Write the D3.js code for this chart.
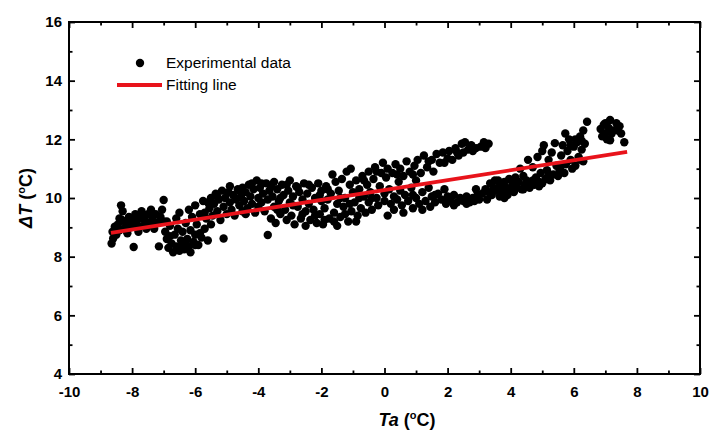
<!DOCTYPE html>
<html>
<head>
<meta charset="utf-8">
<title>Delta T vs Ta</title>
<script src="https://cdn.jsdelivr.net/npm/d3@7"></script>
<style>
    body { margin: 0; background: #fff; }
    text { font-family: Arial, "Liberation Sans", sans-serif; }
</style>
</head>
<body>
<svg id="diagram" width="711" height="432"></svg>
<script>
// Messpunkte [Ta, dT]
var experimental = [
    [-8.65,8.45],[-8.6,8.62],[-8.62,8.85],[-8.55,9.02],[-8.5,8.75],[-8.45,9.1],[-8.4,8.9],[-8.35,9.75],[-8.3,9.55],[-8.32,9.25],[-8.25,8.95],[-8.2,9.15],
    [-8.1,9.35],[-8.05,9.0],[-8.0,9.2],[-7.95,8.33],[-7.9,9.45],[-7.85,9.1],[-7.8,8.85],[-7.75,9.3],[-7.7,9.55],[-7.65,9.05],[-7.6,9.25],[-7.55,8.95],[-7.5,9.45],
    [-7.45,9.15],[-7.4,9.6],[-7.35,9.3],[-7.3,8.95],[-7.25,9.45],[-7.2,9.15],[-7.15,8.35],[-7.1,9.35],[-7.05,9.6],[-7.0,9.93],[-7.0,9.2],[-6.95,8.85],
    [-6.9,8.6],[-6.85,8.3],[-6.8,9.05],[-6.75,8.45],[-6.7,8.15],[-6.65,8.75],[-6.6,9.3],[-6.6,8.35],[-6.55,8.95],[-6.5,8.2],[-6.5,9.5],
    [-6.45,8.55],[-6.4,8.85],[-6.35,8.25],[-6.3,9.15],[-6.25,8.6],[-6.2,9.6],[-6.2,8.35],[-6.15,8.9],[-6.1,9.35],[-6.05,8.5],[-6.0,9.75],[-6.0,8.75],
    [-5.95,9.1],[-5.9,8.4],[-5.85,9.45],[-5.8,8.65],[-5.75,9.9],[-5.7,8.95],[-5.65,9.3],[-5.6,8.55],[-5.55,9.65],[-5.5,9.1],[-5.5,10.0],
    [-5.45,9.4],[-5.4,9.8],[-5.35,10.15],[-5.3,9.55],[-5.25,9.95],[-5.2,9.25],[-5.15,10.25],[-5.1,8.62],[-5.1,9.7],[-5.05,10.0],[-5.0,9.45],
    [-4.95,10.2],[-4.9,9.85],[-4.85,9.6],[-4.8,10.1],[-4.75,9.4],[-4.7,9.95],[-4.65,10.3],[-4.6,9.75],[-4.55,10.05],[-4.5,9.55],[-4.5,10.35],
    [-4.45,9.9],[-4.4,10.2],[-4.35,9.65],[-4.3,10.45],[-4.25,10.05],[-4.2,9.8],[-4.15,10.3],[-4.1,9.5],[-4.05,10.6],[-4.0,10.0],[-4.0,9.7],
    [-3.95,10.35],[-3.9,9.85],[-3.85,10.15],[-3.8,9.55],[-3.75,10.5],[-3.7,8.74],[-3.7,9.95],[-3.65,10.25],[-3.6,9.3],[-3.55,10.05],[-3.5,9.7],[-3.5,10.55],
    [-3.45,9.15],[-3.4,10.3],[-3.35,9.9],[-3.3,9.45],[-3.25,10.45],[-3.2,10.1],[-3.15,9.6],[-3.1,9.25],[-3.05,10.25],[-3.0,9.85],[-3.0,10.6],
    [-2.95,9.4],[-2.9,10.05],[-2.85,9.1],[-2.8,10.4],[-2.75,9.7],[-2.7,10.2],[-2.65,9.3],[-2.6,9.95],[-2.55,10.5],[-2.5,9.55],[-2.5,9.05],
    [-2.45,10.15],[-2.4,9.8],[-2.35,9.25],[-2.3,10.35],[-2.25,9.6],[-2.2,10.0],[-2.15,9.15],[-2.1,10.5],[-2.05,9.45],[-2.0,9.9],[-2.0,10.25],
    [-1.95,9.1],[-1.9,9.65],[-1.85,10.4],[-1.8,9.95],[-1.75,9.3],[-1.7,10.15],[-1.65,10.8],[-1.6,9.5],[-1.55,10.55],[-1.5,9.8],[-1.5,9.05],
    [-1.45,10.25],[-1.4,9.35],[-1.35,10.65],[-1.3,9.7],[-1.25,10.0],[-1.2,10.9],[-1.15,9.2],[-1.1,10.45],[-1.07,11.0],[-1.05,9.55],[-1.0,10.2],
    [-0.95,9.85],[-0.9,10.6],[-0.85,9.4],[-0.8,10.3],[-0.75,9.65],[-0.7,10.75],[-0.65,10.05],[-0.6,9.5],[-0.55,10.45],[-0.5,9.85],[-0.5,10.9],
    [-0.45,10.2],[-0.4,9.6],[-0.35,10.65],[-0.3,11.05],[-0.25,10.0],[-0.2,9.75],[-0.15,10.4],[-0.1,10.85],[-0.05,11.2],[0.0,10.15],[0.0,9.9],
    [0.05,10.7],[0.1,9.4],[0.1,11.0],[0.15,10.3],[0.2,9.8],[0.25,10.85],[0.3,10.05],[0.35,11.15],[0.4,9.95],[0.45,10.55],[0.5,10.25],[0.5,11.0],
    [0.55,9.75],[0.6,10.75],[0.65,10.1],[0.7,11.25],[0.75,9.9],[0.8,10.9],[0.85,10.35],[0.9,9.65],[0.95,11.1],[1.0,10.0],[1.0,10.6],
    [1.05,11.3],[1.1,9.8],[1.15,10.85],[1.2,10.2],[1.25,11.45],[1.3,9.9],[1.35,11.05],[1.4,10.35],[1.45,9.7],[1.5,11.3],[1.5,10.05],
    [1.55,10.9],[1.6,9.85],[1.65,11.5],[1.7,10.15],[1.75,11.2],[1.8,9.95],[1.85,11.55],[1.9,10.3],[1.95,9.8],[2.0,11.35],[2.0,10.05],
    [2.05,11.6],[2.1,9.9],[2.15,11.3],[2.2,10.1],[2.25,11.7],[2.3,9.85],[2.35,11.45],[2.4,10.0],[2.45,11.85],[2.5,9.9],[2.5,11.55],
    [2.55,11.9],[2.6,10.05],[2.65,11.65],[2.7,9.85],[2.75,11.8],[2.8,10.0],[2.85,9.9],[2.9,11.7],[2.95,10.1],[3.0,9.95],
    [3.05,11.75],[3.1,10.15],[3.15,11.9],[3.2,10.3],[3.25,9.95],[3.3,11.85],[3.35,10.5],[3.4,10.1],[3.45,10.35],[3.5,10.6],
    [3.55,10.25],[3.6,10.6],[3.65,10.05],[3.7,10.45],[3.75,10.2],[3.8,10.55],[3.85,10.35],[3.9,10.1],[3.95,10.65],[4.0,10.3],
    [4.05,10.45],[4.1,10.2],[4.15,10.7],[4.2,10.35],[4.25,10.55],[4.3,11.0],[4.35,10.3],[4.4,10.75],[4.45,10.45],[4.5,10.6],
    [4.55,11.3],[4.6,10.35],[4.65,10.55],[4.7,11.05],[4.75,10.45],[4.8,10.7],[4.85,11.4],[4.9,10.55],[4.95,10.85],[5.0,11.6],[5.0,10.5],
    [5.05,11.8],[5.1,10.65],[5.15,10.95],[5.2,11.3],[5.25,10.6],[5.3,11.55],[5.35,10.8],[5.4,11.87],[5.45,11.1],[5.5,10.75],
    [5.55,10.95],[5.6,11.45],[5.65,11.8],[5.7,10.85],[5.73,12.2],[5.75,11.15],[5.8,11.6],[5.85,12.0],[5.9,11.3],[5.95,11.0],[6.0,11.75],
    [6.05,11.1],[6.1,11.9],[6.15,11.4],[6.2,12.1],[6.25,11.65],[6.3,12.3],[6.3,11.25],[6.35,11.85],[6.42,12.6],
    [6.85,12.35],[6.9,12.1],[6.95,12.5],[7.0,12.2],[7.05,12.0],[7.1,12.4],[7.15,12.66],[7.15,11.97],[7.25,12.3],[7.35,12.55],[7.45,12.45],[7.5,12.2],[7.6,11.9],
    [-8.4,9.3],[-8.15,8.8],[-7.9,9.25],[-7.6,9.4],[-7.35,9.05],[-6.9,9.2],[-6.8,8.7],[-6.45,8.3],[-6.3,8.45],[-6.15,8.15],[-6.0,8.4],[-5.85,8.8],[-5.7,9.5],[-5.6,9.85],
    [-5.3,10.05],[-4.9,10.4],[-4.6,10.25],[-4.4,9.45],[-4.2,10.5],[-3.9,10.5],[-3.6,10.4],[-3.4,9.6],[-3.3,10.0],[-3.1,10.45],[-2.9,9.75],[-2.75,10.35],
    [-2.6,9.45],[-2.4,10.45],[-2.2,9.4],[-2.05,10.1],[-1.9,9.25],[-1.8,10.3],[-1.6,9.2],[-1.4,10.0],[-1.25,9.45],[-1.1,9.8],[-0.9,9.2],[-0.8,10.0],
    [-0.65,10.6],[-0.4,10.0],[-0.25,10.9],
    [0.3,9.6],[0.6,9.5],[0.9,10.1],[1.2,9.6],[1.6,10.1],[2.2,9.75],[2.6,9.8],[2.9,10.3],[3.3,10.2],[3.6,10.35],[3.8,10.0],[4.1,10.55],[4.4,10.3],
    [4.7,10.6],[4.9,10.4],[5.2,10.8],
    [0.4,10.8],[0.9,10.8],[1.4,11.25],[1.9,11.2],[2.3,11.55],[2.8,11.6],[3.2,11.7],
    [5.6,11.1],[5.9,11.8],[6.05,12.0],[6.2,11.3],[6.25,11.95],[7.0,12.55],[7.2,12.2],[7.4,12.3]
];

// Ausgleichsgerade (Endpunkte)
var fitTa = [-8.67, 7.69];
var fitDT = [8.81, 11.57];

// Achsenbeschriftung
var xMajorTicks = [-10, -8, -6, -4, -2, 0, 2, 4, 6, 8, 10];
var xMinorTicks = [-9, -7, -5, -3, -1, 1, 3, 5, 7, 9];
var yMajorTicks = [4, 6, 8, 10, 12, 14, 16];
var yMinorTicks = [5, 7, 9, 11, 13, 15];
var legendLabels = ["Experimental data", "Fitting line"];

var svg = d3.select("#diagram");
var plotLeft = 69, plotRight = 700, plotTop = 22, plotBottom = 374;

var xScale = d3.scaleLinear().domain([-10, 10]).range([plotLeft, plotRight]);
var yScale = d3.scaleLinear().domain([4, 16]).range([plotBottom, plotTop]);

// Punkte
svg.append("g")
    .selectAll("circle")
    .data(experimental)
    .enter().append("circle")
    .attr("cx", d => xScale(d[0]))
    .attr("cy", d => yScale(d[1]))
    .attr("r", 4.2)
    .style("fill", "#000");

// Gerade
var fitData = fitTa.map((t, i) => [t, fitDT[i]]);
svg.append("path")
    .datum(fitData)
    .attr("d", d3.line().x(d => xScale(d[0])).y(d => yScale(d[1])))
    .style("fill", "none")
    .style("stroke", "#e8131b")
    .style("stroke-width", 3.8);

// Achsen: Haupt- und Nebenstriche nach innen, auf allen vier Seiten
function tickAxis(axis, values, size, labels) {
    return axis.tickValues(values).tickSize(-size).tickSizeOuter(0)
        .tickFormat(labels ? d => d : "");
}

var axes = [
    [d3.axisBottom, xScale, "translate(0," + plotBottom + ")", xMajorTicks, xMinorTicks, true],
    [d3.axisTop, xScale, "translate(0," + plotTop + ")", xMajorTicks, xMinorTicks, false],
    [d3.axisLeft, yScale, "translate(" + plotLeft + ",0)", yMajorTicks, yMinorTicks, true],
    [d3.axisRight, yScale, "translate(" + plotRight + ",0)", yMajorTicks, yMinorTicks, false]
];

axes.forEach(function (a) {
    var major = svg.append("g")
        .attr("transform", a[2])
        .call(tickAxis(a[0](a[1]), a[3], 6, a[5]).tickPadding(a[0] === d3.axisBottom ? 12 : 7));
    var minor = svg.append("g")
        .attr("transform", a[2])
        .call(tickAxis(a[0](a[1]), a[4], 3.5, false));
    [major, minor].forEach(function (g) {
        g.select(".domain").remove();
        g.selectAll(".tick line").style("stroke", "#000").style("stroke-width", 1.8);
        g.selectAll(".tick text")
            .style("font-size", "15px")
            .style("font-weight", "bold")
            .style("fill", "#000");
    });
});

// Rahmen
svg.append("rect")
    .attr("x", plotLeft)
    .attr("y", plotTop)
    .attr("width", plotRight - plotLeft)
    .attr("height", plotBottom - plotTop)
    .style("fill", "none")
    .style("stroke", "#000")
    .style("stroke-width", 2);

// Achsentitel
var xTitle = svg.append("text")
    .attr("x", 407)
    .attr("y", 426)
    .attr("text-anchor", "middle")
    .style("font-size", "18px")
    .style("font-weight", "bold");
xTitle.append("tspan").style("font-style", "italic").text("Ta");
xTitle.append("tspan").text(" (");
xTitle.append("tspan").attr("dy", -7).style("font-size", "11px").text("o");
xTitle.append("tspan").attr("dy", 7).text("C)");

var yTitle = svg.append("text")
    .attr("transform", "translate(32,198) rotate(-90)")
    .attr("text-anchor", "middle")
    .style("font-size", "18px")
    .style("font-weight", "bold");
yTitle.append("tspan").style("font-style", "italic").text("\u0394T");
yTitle.append("tspan").text(" (");
yTitle.append("tspan").attr("dy", -7).style("font-size", "11px").text("o");
yTitle.append("tspan").attr("dy", 7).text("C)");

// Legende
svg.append("circle")
    .attr("cx", 140)
    .attr("cy", 63)
    .attr("r", 4.2)
    .style("fill", "#000");
svg.append("line")
    .attr("x1", 117)
    .attr("x2", 162)
    .attr("y1", 85)
    .attr("y2", 85)
    .style("stroke", "#e8131b")
    .style("stroke-width", 3.8);
svg.selectAll(".legendText")
    .data(legendLabels)
    .enter().append("text")
    .attr("class", "legendText")
    .attr("x", 166)
    .attr("y", (d, i) => 63 + i * 22)
    .attr("dy", "0.35em")
    .style("font-size", "15.5px")
    .text(d => d);
</script>
</body>
</html>
